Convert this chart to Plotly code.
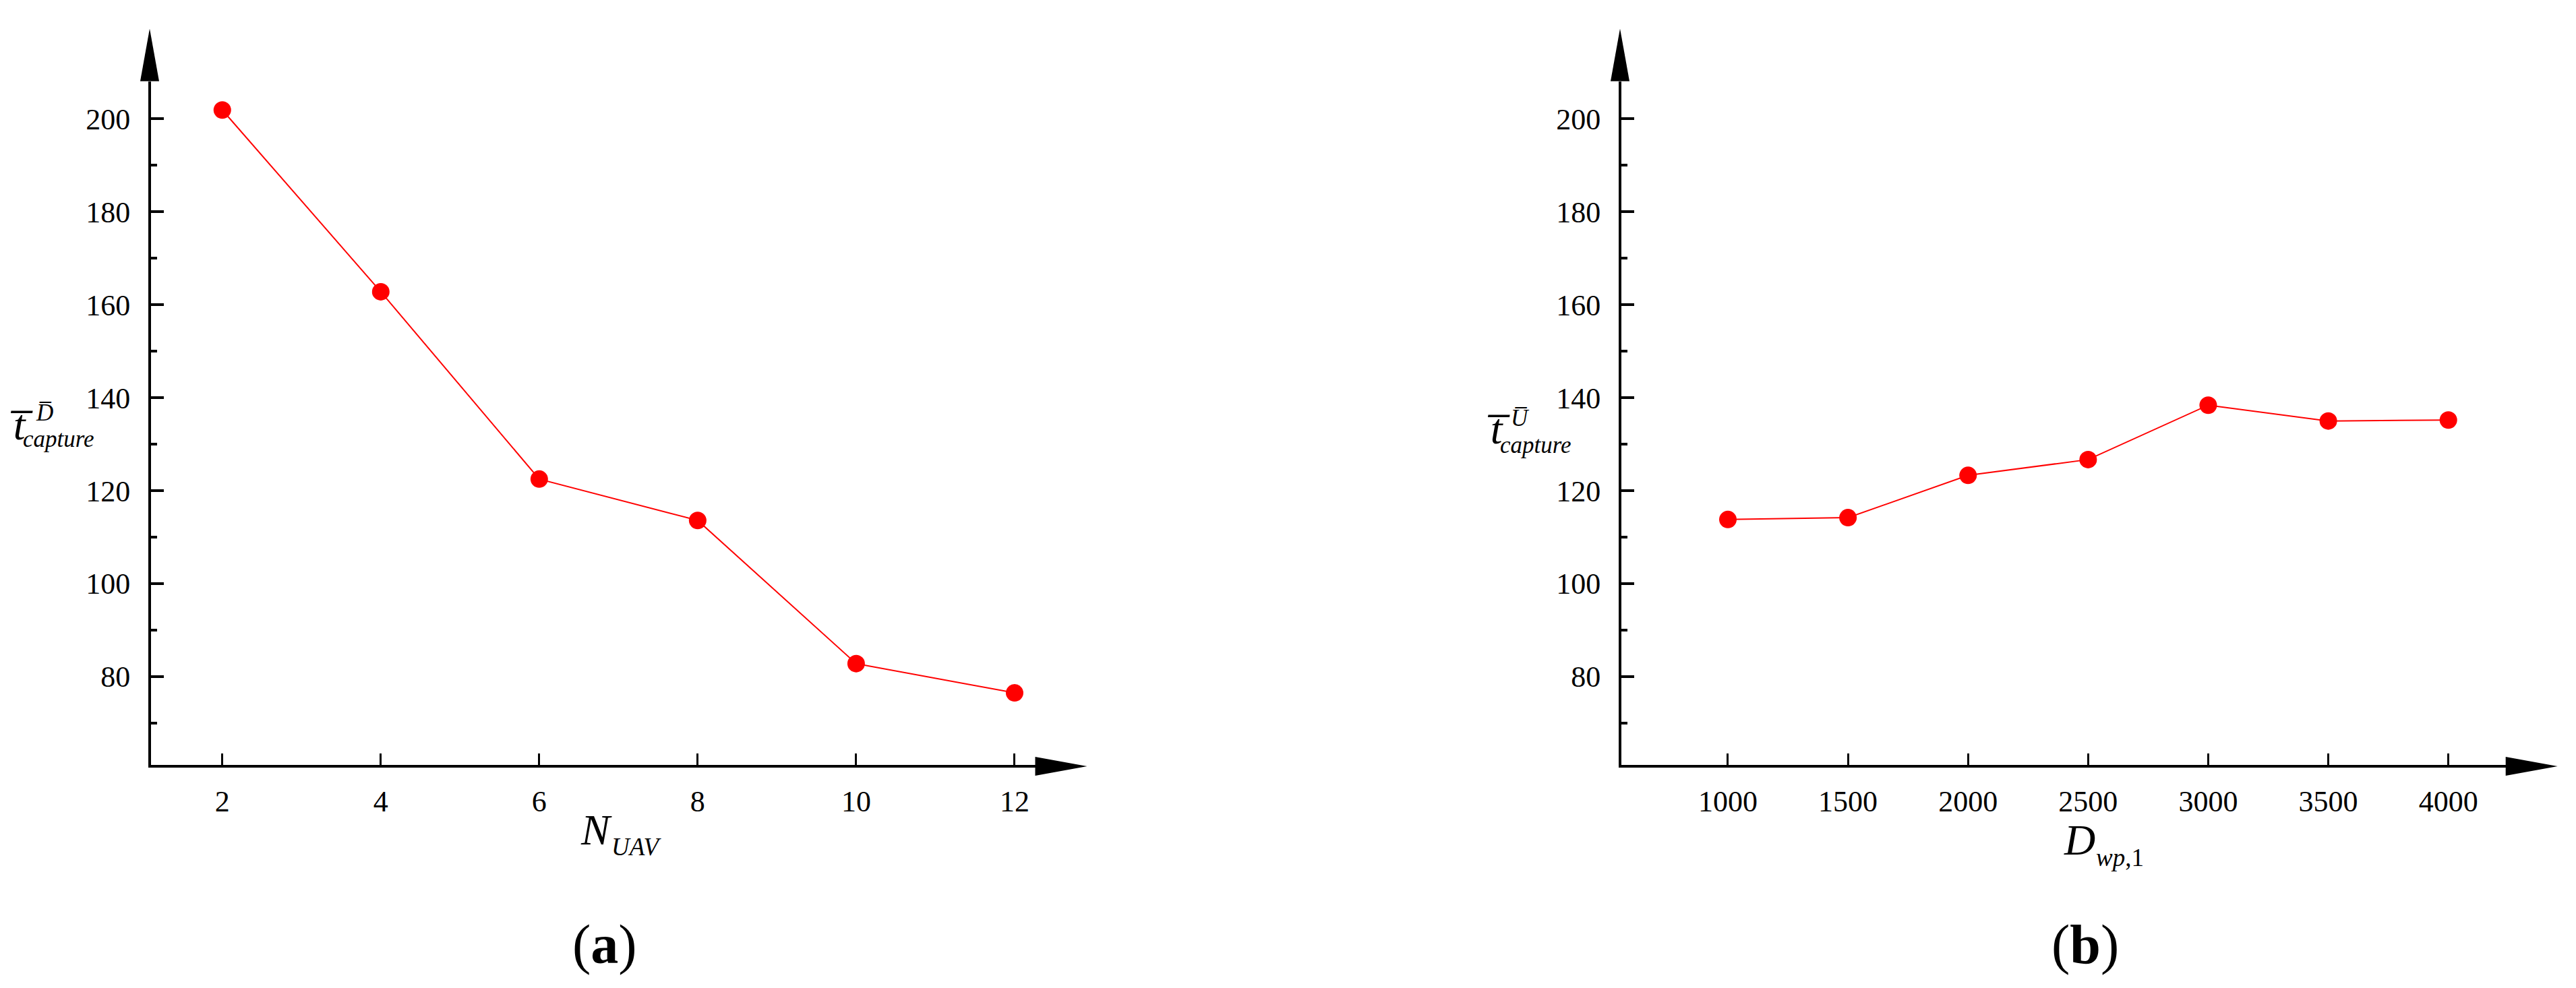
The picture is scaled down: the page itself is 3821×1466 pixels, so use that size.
import plotly.graph_objects as go

# ---------------- data ----------------
n_uav = [2, 4, 6, 8, 10, 12]
t_capture_D = [201.9, 162.8, 122.5, 113.6, 82.8, 76.5]

d_wp1 = [1000, 1500, 2000, 2500, 3000, 3500, 4000]
t_capture_U = [113.8, 114.2, 123.3, 126.7, 138.4, 135.0, 135.2]

y_tickvals = [80, 100, 120, 140, 160, 180, 200]
xa_tickvals = [2, 4, 6, 8, 10, 12]
xb_tickvals = [1000, 1500, 2000, 2500, 3000, 3500, 4000]

# ---------------- layout constants (pixels) ----------------
W, H = 3821, 1466
FONT = "Liberation Serif"
RED = "#FF0000"

Y_TOP, Y_BOT = 120.5, 1135.0          # y axis domain (px from top)
A_X0, A_X1 = 224, 1535.5              # left panel x domain
B_X0, B_X1 = 2405, 3716.7             # right panel x domain


def px(x):
    return x / W


def py(y):
    return 1 - y / H


fig = go.Figure()

fig.add_trace(go.Scatter(
    x=n_uav, y=t_capture_D, mode="lines+markers",
    line=dict(color=RED, width=2),
    marker=dict(color=RED, size=26, symbol="circle"),
    xaxis="x", yaxis="y", showlegend=False))

fig.add_trace(go.Scatter(
    x=d_wp1, y=t_capture_U, mode="lines+markers",
    line=dict(color=RED, width=2),
    marker=dict(color=RED, size=26, symbol="circle"),
    xaxis="x2", yaxis="y2", showlegend=False))

tickfont = dict(family=FONT, size=44, color="black")

xcommon = dict(showline=True, linecolor="black", linewidth=4, ticks="inside",
               ticklen=17, tickwidth=3, tickcolor="black", showgrid=False,
               zeroline=False, tickfont=tickfont, ticklabelstandoff=12)
ycommon = dict(showline=True, linecolor="black", linewidth=4, ticks="inside",
               ticklen=19, tickwidth=4, tickcolor="black", showgrid=False,
               zeroline=False, tickfont=tickfont, tickvals=y_tickvals,
               range=[61.0, 208.1], domain=[py(Y_BOT), py(Y_TOP)],
               ticklabelstandoff=18,
               minor=dict(dtick=10, tick0=0, ticks="inside", ticklen=9,
                          tickwidth=4, tickcolor="black", showgrid=False))

fig.update_layout(
    width=W, height=H,
    margin=dict(l=0, r=0, t=0, b=0),
    paper_bgcolor="white", plot_bgcolor="white",
    showlegend=False,
    xaxis=dict(domain=[px(A_X0), px(A_X1)], range=[1.1, 12.26],
               tickvals=xa_tickvals, anchor="y", **xcommon),
    yaxis=dict(anchor="x", **ycommon),
    xaxis2=dict(domain=[px(B_X0), px(B_X1)], range=[556.5, 4238.6],
                tickvals=xb_tickvals, anchor="y2", **xcommon),
    yaxis2=dict(anchor="x2", **ycommon),
)

# ---------------- arrow heads on axes ----------------
def tri(p1, p2, p3):
    return ("M {:.6f},{:.6f} L {:.6f},{:.6f} L {:.6f},{:.6f} Z"
            .format(px(p1[0]), py(p1[1]), px(p2[0]), py(p2[1]),
                    px(p3[0]), py(p3[1])))

shapes = []
for ax0, ax1 in [(A_X0, A_X1), (B_X0, B_X1)]:
    xl = ax0 - 2      # axis line centre (drawn outside the domain)
    yl = Y_BOT + 2
    shapes.append(dict(type="path", xref="paper", yref="paper",
                       path=tri((xl - 14, Y_TOP), (xl + 14, Y_TOP), (xl, Y_TOP - 78)),
                       fillcolor="black", line=dict(width=0)))
    shapes.append(dict(type="path", xref="paper", yref="paper",
                       path=tri((ax1, yl - 14), (ax1, yl + 14), (ax1 + 77, yl)),
                       fillcolor="black", line=dict(width=0)))
fig.update_layout(shapes=shapes)

# ---------------- text ----------------
anns = []


def ann(text, x, y, size, xanchor="left", yanchor="middle"):
    anns.append(dict(text=text, x=px(x), y=py(y), xref="paper", yref="paper",
                     xanchor=xanchor, yanchor=yanchor, showarrow=False,
                     font=dict(family=FONT, size=size, color="black"),
                     borderpad=0))


# left y title  t̄_capture^D̄
ann("<i>t\u0305</i>", 14, 630, 64)
ann("<i>D\u0305</i>", 52, 612, 35)
ann("<i>capture</i>", 33, 651, 35)
# right y title  t̄_capture^Ū
ann("<i>t\u0305</i>", 2205, 636, 64)
ann("<i>U\u0305</i>", 2240, 620, 35)
ann("<i>capture</i>", 2224, 660, 35)

# x titles
ann("<i>N</i>", 860, 1231, 64)
ann("<i>UAV</i>", 906, 1256, 37)
ann("<i>D</i>", 3060, 1246, 64)
ann("<i>wp</i>,1", 3108, 1272, 37)

# panel labels
ann("(<b>a</b>)", 897, 1401, 82, xanchor="center")
ann("(<b>b</b>)", 3093, 1401, 82, xanchor="center")

fig.update_layout(annotations=anns)

fig.write_html("out.html",
               config={"displayModeBar": False},
               post_script="document.body.style.margin='0';document.body.style.padding='0';")
